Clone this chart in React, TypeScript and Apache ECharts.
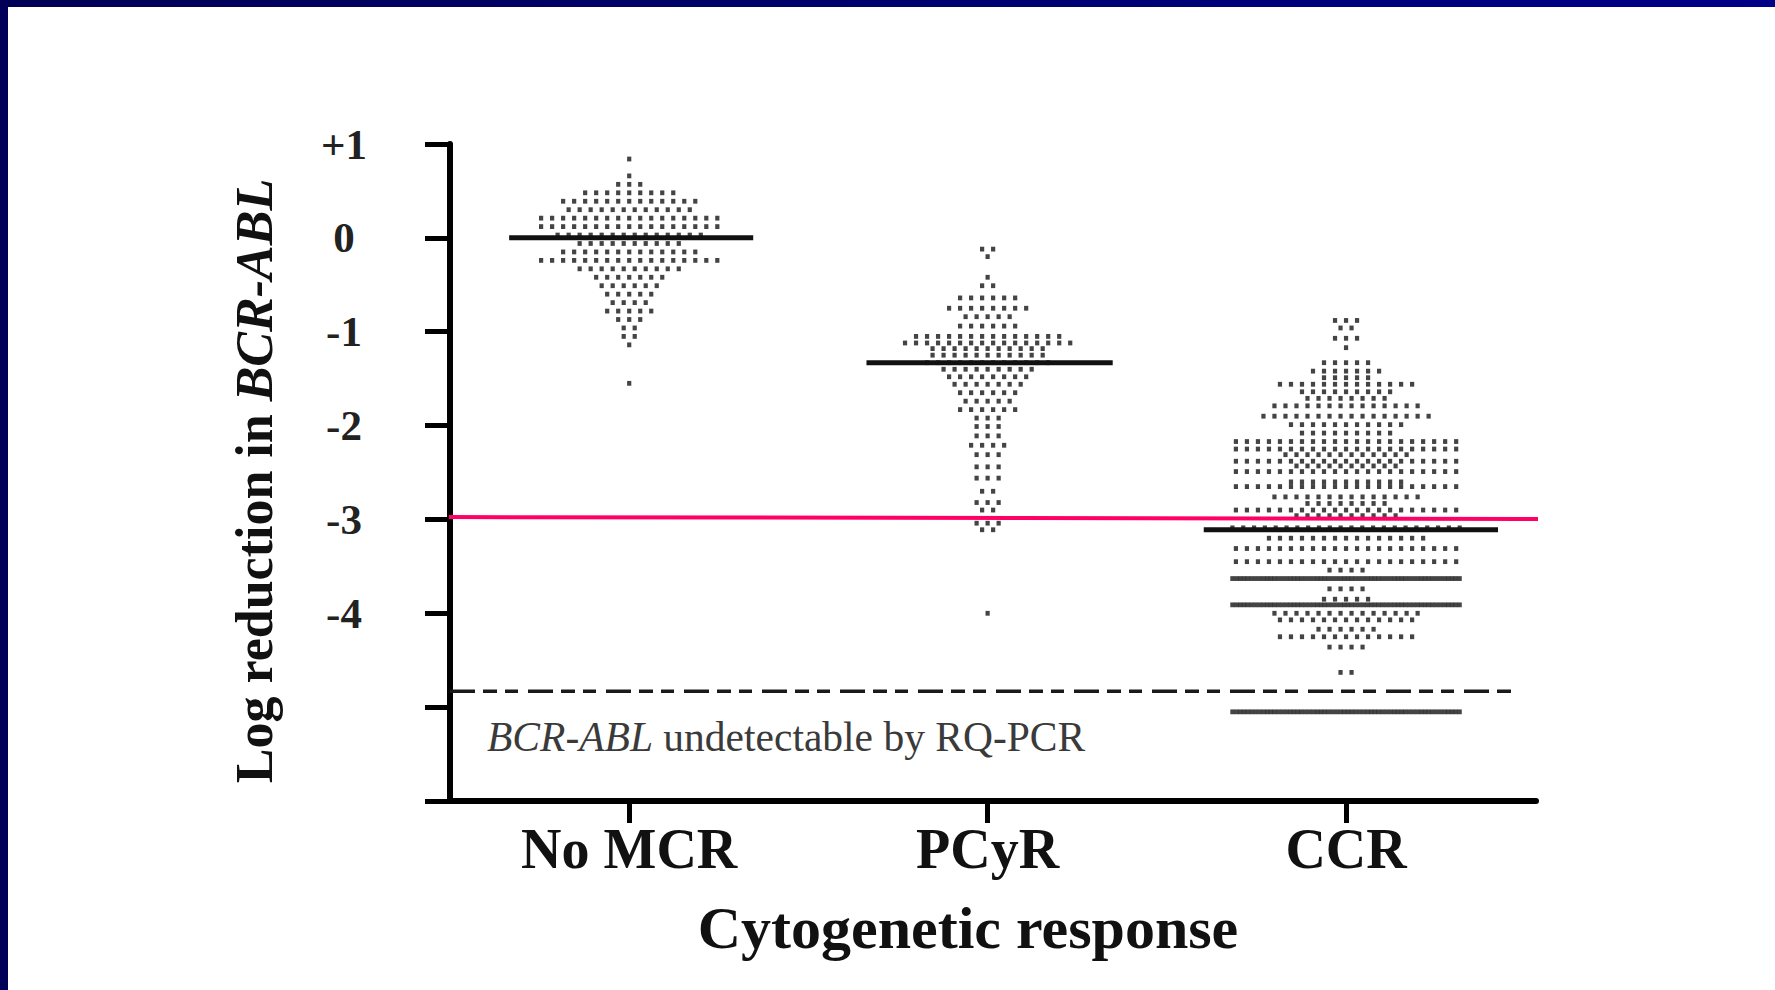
import React, { useEffect, useRef } from "react";
import * as echarts from "echarts";

// ---------- data ----------
const categories = ["No MCR", "PCyR", "CCR"];
const categoryPositions = [1, 2, 3];

// Log reduction levels (rows of the dot plot) and number of patients in each row
const noMcrLevels = [0.84, 0.66, 0.57, 0.48, 0.39, 0.3, 0.21, 0.12, 0.03, -0.06, -0.15, -0.24, -0.33, -0.42, -0.51, -0.6, -0.69, -0.78, -0.87, -0.96, -1.05, -1.14, -1.55];
const noMcrCounts = [1, 1, 3, 9, 13, 12, 17, 17, 14, 10, 13, 17, 10, 7, 6, 5, 4, 5, 3, 2, 2, 1, 1];

const pcyrLevels = [-0.12, -0.2, -0.42, -0.51, -0.64, -0.75, -0.84, -0.94, -1.05, -1.12, -1.18, -1.25, -1.33, -1.4, -1.48, -1.56, -1.65, -1.74, -1.83, -1.92, -2.01, -2.11, -2.21, -2.31, -2.44, -2.56, -2.7, -2.82, -2.9, -3.04, -3.11, -4.0];
const pcyrCounts = [2, 1, 1, 2, 6, 8, 5, 6, 14, 16, 11, 11, 12, 9, 8, 7, 6, 5, 6, 3, 3, 3, 4, 3, 3, 3, 2, 3, 2, 3, 2, 1];

const ccrLevels = [-0.88, -0.96, -1.07, -1.17, -1.33, -1.42, -1.49, -1.56, -1.64, -1.71, -1.79, -1.9, -1.99, -2.08, -2.17, -2.25, -2.31, -2.38, -2.43, -2.49, -2.6, -2.65, -2.76, -2.83, -2.9, -2.96, -3.09, -3.2, -3.31, -3.45, -3.54, -3.63, -3.74, -3.85, -3.91, -4.0, -4.07, -4.17, -4.25, -4.36, -4.63, -5.05];
const ccrCounts = [3, 2, 3, 1, 5, 7, 5, 13, 9, 8, 14, 16, 11, 9, 21, 21, 12, 21, 10, 21, 11, 21, 14, 8, 21, 10, 22, 15, 21, 21, 4, 60, 4, 5, 60, 14, 13, 6, 13, 4, 2, 60];

const medians = [0, -1.33, -3.11];
const medianLeft = [0.665, 1.662, 2.603];
const medianRight = [1.346, 2.349, 3.424];

const thresholdLeft = -2.975; // red line at 3-log reduction
const thresholdRight = -2.995;
const undetectableLevel = -4.83;

const yTickLabels: Record<string, string> = { "1": "+1", "0": "0", "-1": "-1", "-2": "-2", "-3": "-3", "-4": "-4" };

// ---------- layout helpers ----------
const PX_PER_X = 358;
const DOT_STEP = 11 / PX_PER_X;

function swarm(center: number, levels: number[], counts: number[], maxWidthPx: number) {
  const pts: number[][] = [];
  levels.forEach((y, r) => {
    const n = counts[r];
    const step = Math.min(DOT_STEP, maxWidthPx / PX_PER_X / Math.max(n - 1, 1));
    for (let i = 0; i < n; i++) pts.push([center + (i - (n - 1) / 2) * step, y]);
  });
  return pts;
}

const SERIF = "'Liberation Serif', 'Times New Roman', 'DejaVu Serif', serif";

export default function App() {
  const ref = useRef<HTMLDivElement>(null);
  useEffect(() => {
    if (!ref.current) return;
    const chart = echarts.init(ref.current, undefined, { renderer: "svg" });
    const dots = [
      ...swarm(categoryPositions[0], noMcrLevels, noMcrCounts, 190),
      ...swarm(categoryPositions[1], pcyrLevels, pcyrCounts, 180),
      ...swarm(categoryPositions[2], ccrLevels, ccrCounts, 227),
    ];
    const medianSeries = medians.map((m, i) => ({
      type: "line",
      data: [[medianLeft[i], m], [medianRight[i], m]],
      symbol: "none",
      lineStyle: { color: "#111", width: 5 },
      z: 5,
      silent: true,
    }));
    chart.setOption({
      animation: false,
      backgroundColor: "#ffffff",
      grid: { left: 450, right: 239, top: 144, bottom: 189 },
      xAxis: {
        type: "value",
        min: 0.5,
        max: 3.53,
        splitLine: { show: false },
        axisLine: { onZero: false, lineStyle: { color: "#000", width: 6 } },
        axisTick: { customValues: categoryPositions, length: 22, lineStyle: { color: "#000", width: 5 } },
        axisLabel: {
          customValues: categoryPositions,
          formatter: (v: number) => categories[Math.round(v) - 1] ?? "",
          margin: 20,
          color: "#111",
          fontFamily: SERIF,
          fontWeight: "bold",
          fontSize: 56,
        },
      },
      yAxis: {
        type: "value",
        min: -6,
        max: 1,
        interval: 1,
        splitLine: { show: false },
        axisLine: { onZero: false, lineStyle: { color: "#000", width: 6 } },
        axisTick: { length: 25, lineStyle: { color: "#000", width: 5 } },
        axisLabel: {
          formatter: (v: number) => yTickLabels[String(v)] ?? "",
          align: "center",
          margin: 106,
          color: "#222",
          fontFamily: SERIF,
          fontWeight: "bold",
          fontSize: 43,
        },
      },
      graphic: [
        {
          type: "rect",
          shape: { x: 0, y: 0, width: 1775, height: 7 },
          style: { fill: new echarts.graphic.LinearGradient(0, 0, 1, 0, [{ offset: 0, color: "#000055" }, { offset: 1, color: "#000088" }]) },
          z: 100,
        },
        { type: "rect", shape: { x: 0, y: 0, width: 8, height: 990 }, style: { fill: "#000058" }, z: 100 },
        {
          type: "text",
          x: 254,
          y: 481,
          rotation: Math.PI / 2,
          style: {
            text: "{n|Log reduction in }{i|BCR-ABL}",
            align: "center",
            verticalAlign: "middle",
            fontFamily: SERIF,
            fontSize: 52,
            fontWeight: "bold",
            fill: "#111",
            rich: {
              n: { fontFamily: SERIF, fontSize: 52, fontWeight: "bold", fill: "#111" },
              i: { fontFamily: SERIF, fontSize: 52, fontWeight: "bold", fontStyle: "italic", fill: "#111" },
            },
          },
        },
        {
          type: "text",
          x: 968,
          y: 928,
          style: {
            text: "Cytogenetic response",
            align: "center",
            verticalAlign: "middle",
            fontFamily: SERIF,
            fontSize: 60,
            fontWeight: "bold",
            fill: "#111",
          },
        },
        {
          type: "text",
          x: 487,
          y: 737,
          style: {
            text: "{i|BCR-ABL}{n| undetectable by RQ-PCR}",
            align: "left",
            verticalAlign: "middle",
            fontFamily: SERIF,
            fontSize: 41.5,
            fill: "#3a3a3a",
            rich: {
              n: { fontFamily: SERIF, fontSize: 41.5, fill: "#3a3a3a" },
              i: { fontFamily: SERIF, fontSize: 41.5, fontStyle: "italic", fill: "#3a3a3a" },
            },
          },
        },
      ],
      series: [
        {
          type: "scatter",
          data: dots,
          symbol: "rect",
          symbolSize: [4.2, 4.8],
          itemStyle: { color: "#151515" },
          z: 3,
          silent: true,
        },
        ...medianSeries,
        {
          type: "line",
          data: [[0.5, undetectableLevel], [3.475, undetectableLevel]],
          symbol: "none",
          lineStyle: { color: "#1a1a1a", width: 3.5, type: [25, 8, 14, 8, 13, 10] },
          z: 4,
          silent: true,
        },
        {
          type: "line",
          data: [[0.497, thresholdLeft], [3.606, thresholdRight]],
          symbol: "none",
          clip: false,
          lineStyle: { color: "#ff0066", width: 4 },
          z: 6,
          silent: true,
        },
      ],
    });
    return () => chart.dispose();
  }, []);
  return (
    <div
      ref={ref}
      style={{ position: "fixed", left: 0, top: 0, width: 1775, height: 990, background: "#fff" }}
    />
  );
}
